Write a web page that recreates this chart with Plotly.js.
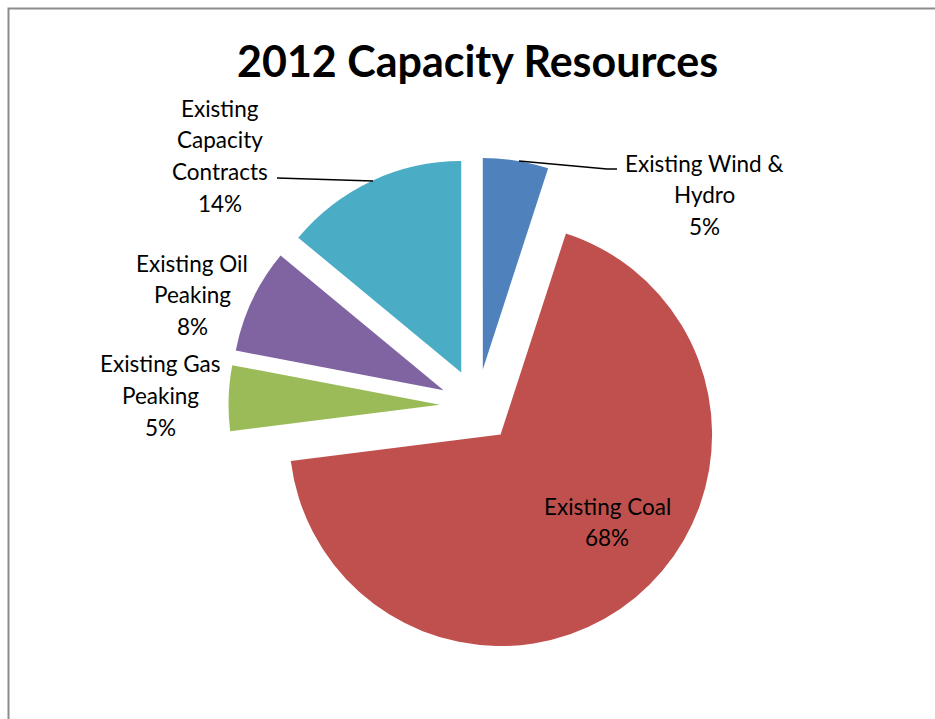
<!DOCTYPE html>
<html>
<head>
<meta charset="utf-8">
<script src="https://cdn.plot.ly/plotly-3.0.1.min.js"></script>
<style>html,body{margin:0;padding:0;background:#fff;}#chart{width:935px;height:719px;}</style>
</head>
<body>
<div id="chart"></div>
<script>
const categories = ["Existing Wind & Hydro", "Existing Coal", "Existing Gas Peaking", "Existing Oil Peaking", "Existing Capacity Contracts"];
const values = [5, 68, 5, 8, 14];
const colors = ["#4F81BD", "#C0504D", "#9BBB59", "#8064A2", "#4BACC6"];
const labelLines = [
  ["Existing Wind &", "Hydro"],
  ["Existing Coal"],
  ["Existing Gas", "Peaking"],
  ["Existing Oil", "Peaking"],
  ["Existing", "Capacity", "Contracts"]
];
const titleText = "2012 Capacity Resources";

const W = 935, H = 719;
const px = x => x / W;
const py = y => 1 - y / H;

const total = values.reduce((a, b) => a + b, 0);
const pctText = values.map(v => Math.round(v / total * 100) + "%");

// label anchor: center x, first-line center y (pixels); line step
const labelPos = [[704, 163], [607, 506], [160, 364], [192, 263], [220, 108]];
const lineStep = 31.8;

const annotations = [];
categories.forEach((c, i) => {
  const lines = labelLines[i].concat([pctText[i]]);
  lines.forEach((t, k) => {
    annotations.push({
      x: px(labelPos[i][0]), y: py(labelPos[i][1] + k * lineStep), xref: "paper", yref: "paper",
      text: t, showarrow: false, xanchor: "center", yanchor: "middle",
      font: {family: "Lato, Carlito, sans-serif", size: 22.5, color: "#000"}
    });
  });
});
annotations.push({
  x: px(477.5), y: py(60), xref: "paper", yref: "paper", text: "<b>" + titleText + "</b>",
  showarrow: false, xanchor: "center", yanchor: "middle",
  font: {family: "Lato, Carlito, sans-serif", size: 43, color: "#000"}
});

const shapes = [
  {type: "rect", xref: "paper", yref: "paper", x0: px(8.5), x1: 1.2, y0: -0.2, y1: py(8.5),
   line: {color: "#8c8c8c", width: 2}, fillcolor: "rgba(0,0,0,0)", layer: "above"},
  {type: "path", xref: "paper", yref: "paper",
   path: `M ${px(519)} ${py(161)} L ${px(607)} ${py(169)} L ${px(617)} ${py(169)}`,
   line: {color: "#000", width: 1.5}},
  {type: "line", xref: "paper", yref: "paper", x0: px(277), y0: py(178), x1: px(373), y1: py(181),
   line: {color: "#000", width: 1.5}}
];

const pullAmt = 0.175;
const data = [{
  type: "pie",
  labels: categories,
  values: values,
  marker: {colors: colors, line: {width: 0}},
  sort: false,
  direction: "clockwise",
  rotation: 0,
  pull: values.map(() => pullAmt),
  textinfo: "none",
  hoverinfo: "label+percent",
  showlegend: false,
  domain: {x: [px(228.5), px(725.5)], y: [py(654.5), py(157.5)]}
}];

const layout = {
  width: W, height: H,
  margin: {l: 0, r: 0, t: 0, b: 0},
  paper_bgcolor: "#fff",
  showlegend: false,
  annotations: annotations,
  shapes: shapes
};

Plotly.newPlot("chart", data, layout, {displayModeBar: false, staticPlot: true});
</script>
</body>
</html>
